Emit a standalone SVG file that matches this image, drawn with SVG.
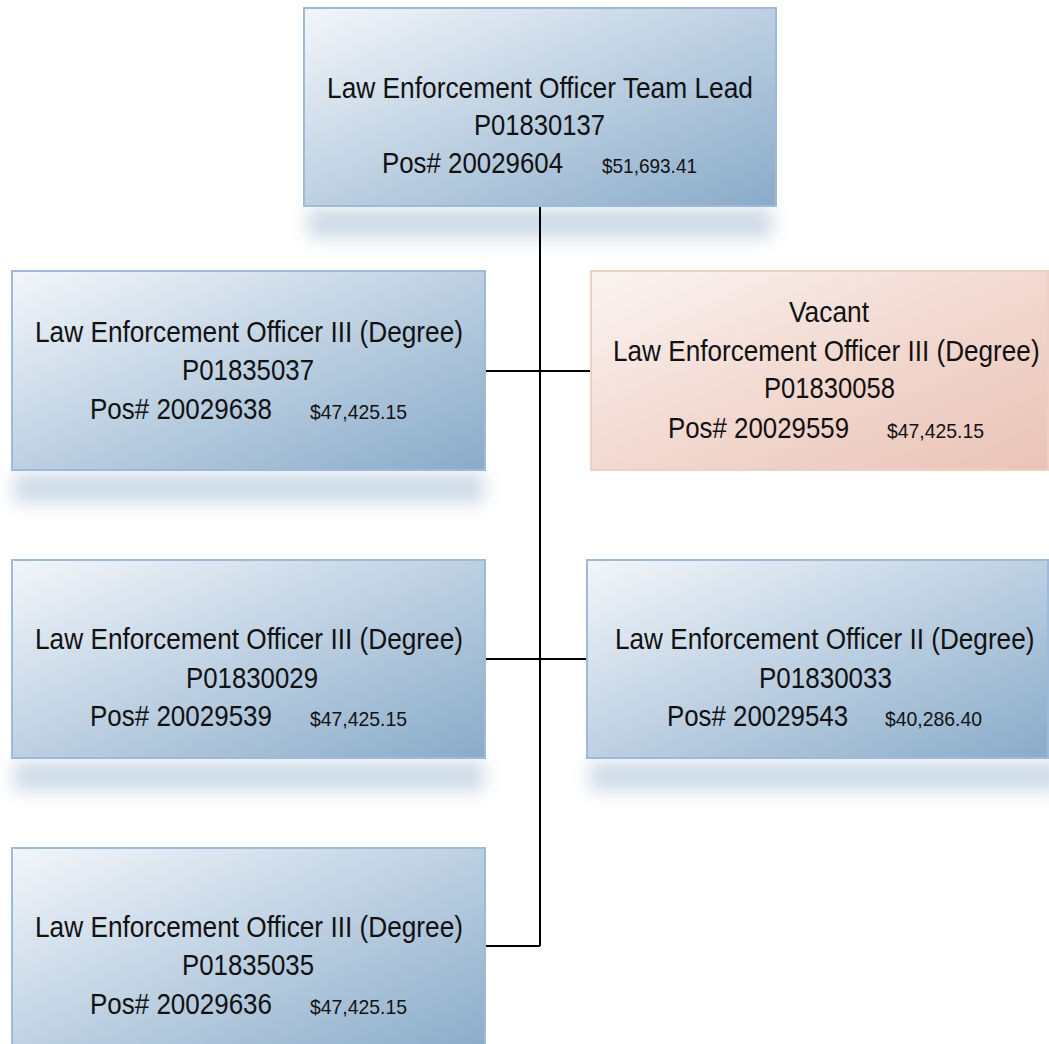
<svg xmlns="http://www.w3.org/2000/svg" width="1049" height="1044" viewBox="0 0 1049 1044">
<defs>
<linearGradient id="gBlue" x1="0" y1="0" x2="1" y2="1">
<stop offset="0" stop-color="#f3f6fa"/>
<stop offset="0.5" stop-color="#bdd0e2"/>
<stop offset="1" stop-color="#89abc9"/>
</linearGradient>
<linearGradient id="gPink" x1="0" y1="0" x2="1" y2="1">
<stop offset="0" stop-color="#fbf4f2"/>
<stop offset="0.5" stop-color="#f2d9d1"/>
<stop offset="1" stop-color="#eac3b6"/>
</linearGradient>
<filter id="blur" x="-20%" y="-100%" width="140%" height="300%">
<feGaussianBlur stdDeviation="9"/>
</filter>
</defs>
<style>
.box{fill:url(#gBlue);stroke:#9dbbd8;stroke-width:2}
.vac{fill:url(#gPink);stroke:#f0cfc4;stroke-width:2}
.sh{fill:#adc2d7;opacity:0.6;filter:url(#blur)}
.t{font-family:"Liberation Sans",Arial,sans-serif;font-size:29px;fill:#111}
.s{font-family:"Liberation Sans",Arial,sans-serif;font-size:21px;fill:#111}
.c{fill:none;stroke:#000;stroke-width:2}
</style>
<rect width="1049" height="1044" fill="#fff"/>

<g id="shadows">
<rect class="sh" x="308" y="208" width="464" height="30"/>
<rect class="sh" x="14" y="473" width="470" height="30"/>
<rect class="sh" x="14" y="761" width="470" height="30"/>
<rect class="sh" x="590" y="761" width="470" height="30"/>
</g>

<g id="connectors">
<path class="c" d="M540,206 V946"/>
<path class="c" d="M485,371 H591"/>
<path class="c" d="M485,659 H587"/>
<path class="c" d="M485,946 H540"/>
</g>

<g id="node-lead">
<rect class="box" x="304" y="8" width="472" height="198"/>
<text class="t" x="327" y="98" textLength="426" lengthAdjust="spacingAndGlyphs">Law Enforcement Officer Team Lead</text>
<text class="t" x="474" y="135" textLength="131" lengthAdjust="spacingAndGlyphs">P01830137</text>
<text class="t" x="382" y="173" textLength="181" lengthAdjust="spacingAndGlyphs">Pos# 20029604</text>
<text class="s" x="602" y="173" textLength="95" lengthAdjust="spacingAndGlyphs">$51,693.41</text>
</g>

<g id="node-p01835037">
<rect class="box" x="12" y="271" width="473" height="199"/>
<text class="t" x="35" y="342" textLength="428" lengthAdjust="spacingAndGlyphs">Law Enforcement Officer III (Degree)</text>
<text class="t" x="182" y="380" textLength="132" lengthAdjust="spacingAndGlyphs">P01835037</text>
<text class="t" x="90" y="419" textLength="182" lengthAdjust="spacingAndGlyphs">Pos# 20029638</text>
<text class="s" x="310" y="419" textLength="97" lengthAdjust="spacingAndGlyphs">$47,425.15</text>
</g>

<g id="node-vacant">
<rect class="vac" x="591" y="271" width="457" height="199"/>
<text class="t" x="789" y="322" textLength="80" lengthAdjust="spacingAndGlyphs">Vacant</text>
<text class="t" transform="translate(613,361) scale(0.9,1)" x="0" y="0" textLength="474" lengthAdjust="spacingAndGlyphs">Law Enforcement Officer III (Degree)</text>
<text class="t" x="764" y="398" textLength="131" lengthAdjust="spacingAndGlyphs">P01830058</text>
<text class="t" x="668" y="438" textLength="181" lengthAdjust="spacingAndGlyphs">Pos# 20029559</text>
<text class="s" x="887" y="438" textLength="97" lengthAdjust="spacingAndGlyphs">$47,425.15</text>
</g>

<g id="node-p01830029">
<rect class="box" x="12" y="560" width="473" height="198"/>
<text class="t" x="35" y="649" textLength="428" lengthAdjust="spacingAndGlyphs">Law Enforcement Officer III (Degree)</text>
<text class="t" x="186" y="688" textLength="132" lengthAdjust="spacingAndGlyphs">P01830029</text>
<text class="t" x="90" y="726" textLength="182" lengthAdjust="spacingAndGlyphs">Pos# 20029539</text>
<text class="s" x="310" y="726" textLength="97" lengthAdjust="spacingAndGlyphs">$47,425.15</text>
</g>

<g id="node-p01830033">
<rect class="box" x="587" y="560" width="461" height="198"/>
<text class="t" transform="translate(615,649) scale(0.9,1)" x="0" y="0" textLength="466" lengthAdjust="spacingAndGlyphs">Law Enforcement Officer II (Degree)</text>
<text class="t" x="759" y="688" textLength="133" lengthAdjust="spacingAndGlyphs">P01830033</text>
<text class="t" x="667" y="726" textLength="181" lengthAdjust="spacingAndGlyphs">Pos# 20029543</text>
<text class="s" x="885" y="726" textLength="97" lengthAdjust="spacingAndGlyphs">$40,286.40</text>
</g>

<g id="node-p01835035">
<rect class="box" x="12" y="848" width="473" height="210"/>
<text class="t" x="35" y="937" textLength="428" lengthAdjust="spacingAndGlyphs">Law Enforcement Officer III (Degree)</text>
<text class="t" x="182" y="975" textLength="132" lengthAdjust="spacingAndGlyphs">P01835035</text>
<text class="t" x="90" y="1014" textLength="182" lengthAdjust="spacingAndGlyphs">Pos# 20029636</text>
<text class="s" x="310" y="1014" textLength="97" lengthAdjust="spacingAndGlyphs">$47,425.15</text>
</g>
</svg>
